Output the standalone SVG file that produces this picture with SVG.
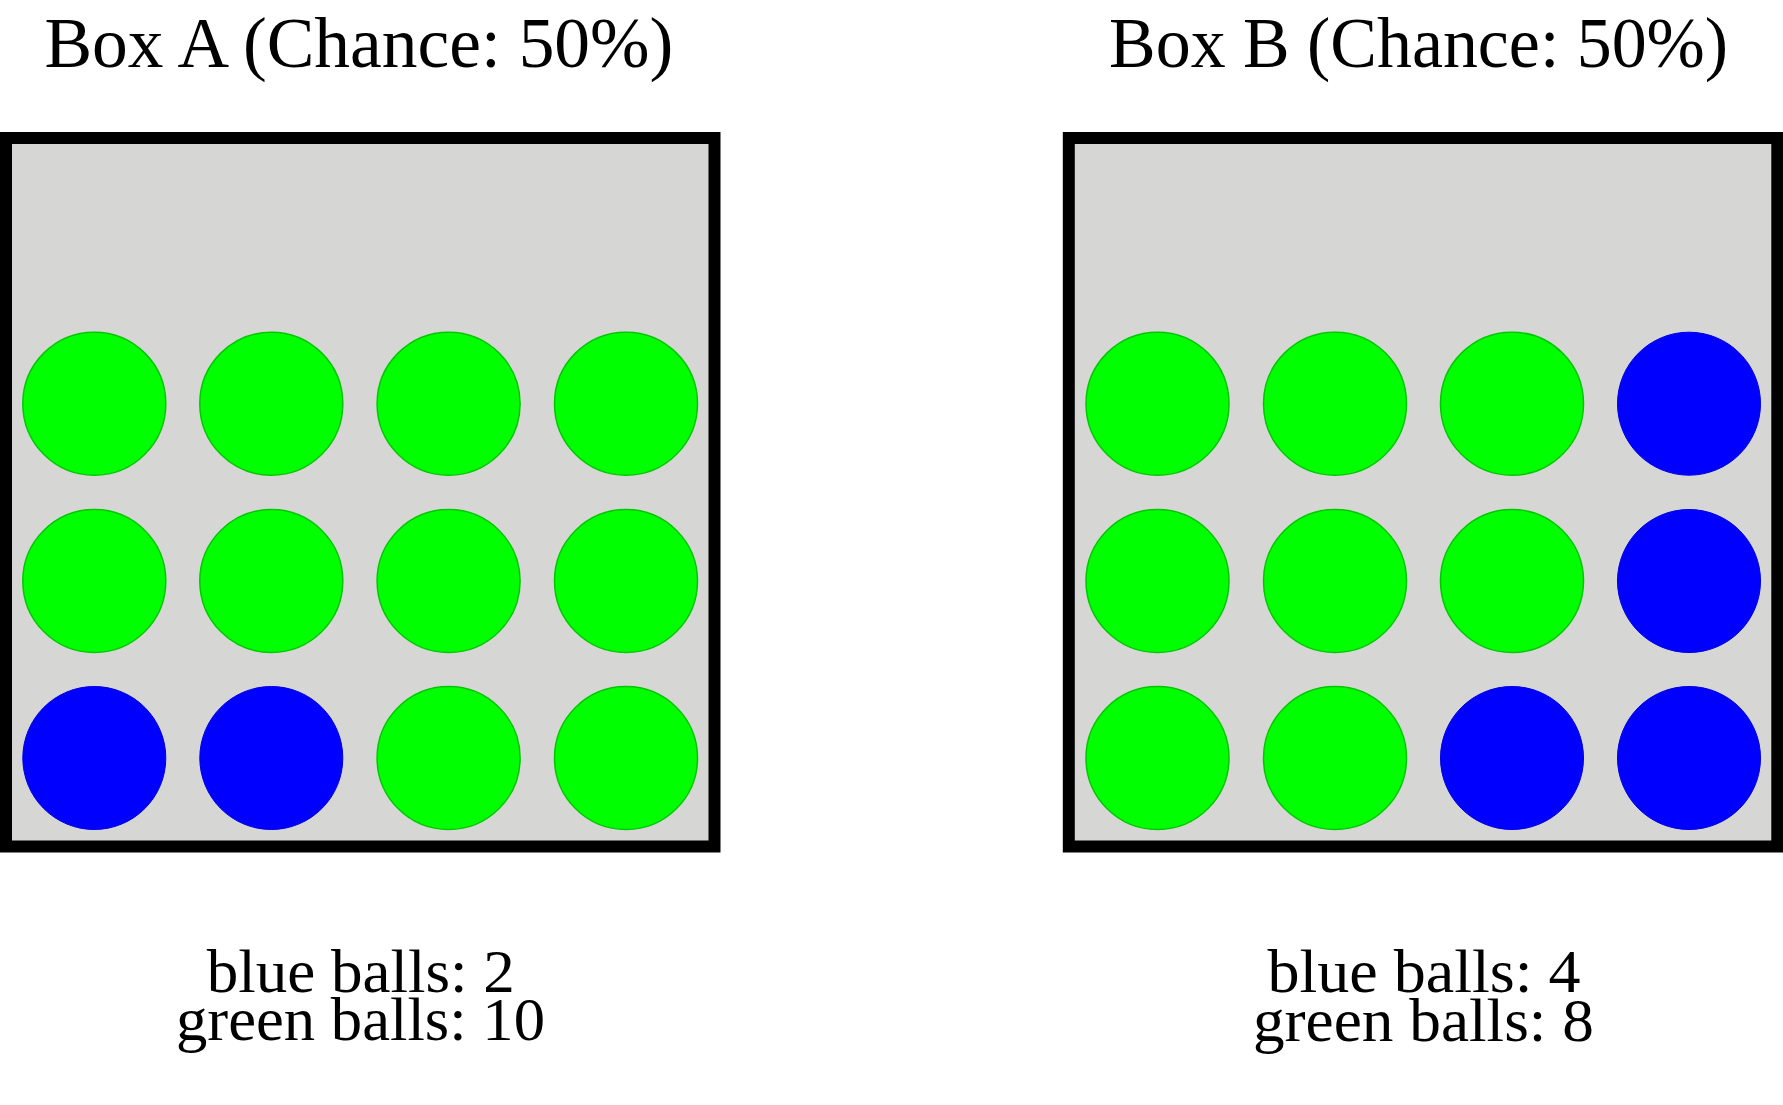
<svg xmlns="http://www.w3.org/2000/svg" width="1783" height="1105" viewBox="0 0 1783 1105">
<style>
.box{fill:#d6d6d4;stroke:#000;stroke-width:12}
.g{fill:#00ff00;stroke:#00c800;stroke-width:1.5}
.b{fill:#0000ff;stroke:#0000e0;stroke-width:1}
.t{font-family:"Liberation Serif","DejaVu Serif",serif;fill:#000;text-anchor:middle}
.title{font-size:72px}
.lab{font-size:62px}
</style>
<rect width="1783" height="1105" fill="#fff"/>
<g id="boxA">
<rect class="box" x="6" y="138" width="708.5" height="708.5"/>
<circle class="g" cx="94.3" cy="403.7" r="71.5"/>
<circle class="g" cx="271.3" cy="403.7" r="71.5"/>
<circle class="g" cx="448.6" cy="403.7" r="71.5"/>
<circle class="g" cx="626" cy="403.7" r="71.5"/>
<circle class="g" cx="94.3" cy="581" r="71.5"/>
<circle class="g" cx="271.3" cy="581" r="71.5"/>
<circle class="g" cx="448.6" cy="581" r="71.5"/>
<circle class="g" cx="626" cy="581" r="71.5"/>
<circle class="b" cx="94.3" cy="758" r="71.5"/>
<circle class="b" cx="271.3" cy="758" r="71.5"/>
<circle class="g" cx="448.6" cy="758" r="71.5"/>
<circle class="g" cx="626" cy="758" r="71.5"/>
<text class="t title" x="358.9" y="67" textLength="629" lengthAdjust="spacingAndGlyphs">Box A (Chance: 50%)</text>
<text class="t lab" x="360.8" y="991.7" textLength="308" lengthAdjust="spacingAndGlyphs">blue balls: 2</text>
<text class="t lab" x="360.5" y="1040" textLength="369" lengthAdjust="spacingAndGlyphs">green balls: 10</text>
</g>
<g id="boxB">
<rect class="box" x="1068.8" y="138" width="708.5" height="708.5"/>
<circle class="g" cx="1157.5" cy="403.7" r="71.5"/>
<circle class="g" cx="1335" cy="403.7" r="71.5"/>
<circle class="g" cx="1512" cy="403.7" r="71.5"/>
<circle class="b" cx="1689" cy="403.7" r="71.5"/>
<circle class="g" cx="1157.5" cy="581" r="71.5"/>
<circle class="g" cx="1335" cy="581" r="71.5"/>
<circle class="g" cx="1512" cy="581" r="71.5"/>
<circle class="b" cx="1689" cy="581" r="71.5"/>
<circle class="g" cx="1157.5" cy="758" r="71.5"/>
<circle class="g" cx="1335" cy="758" r="71.5"/>
<circle class="b" cx="1512" cy="758" r="71.5"/>
<circle class="b" cx="1689" cy="758" r="71.5"/>
<text class="t title" x="1418.6" y="67" textLength="619" lengthAdjust="spacingAndGlyphs">Box B (Chance: 50%)</text>
<text class="t lab" x="1424" y="992.2" textLength="313" lengthAdjust="spacingAndGlyphs">blue balls: 4</text>
<text class="t lab" x="1423.4" y="1040.5" textLength="341" lengthAdjust="spacingAndGlyphs">green balls: 8</text>
</g>
<g id="connectors"/>
</svg>
